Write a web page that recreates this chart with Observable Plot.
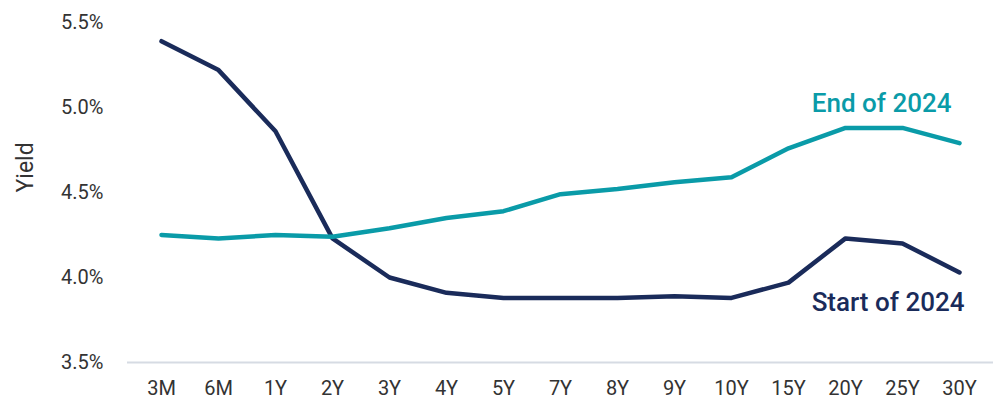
<!DOCTYPE html>
<html>
<head>
<meta charset="utf-8">
<script src="https://cdn.jsdelivr.net/npm/d3@7"></script>
<script src="https://cdn.jsdelivr.net/npm/@observablehq/plot@0.6"></script>
<style>
  html, body { margin: 0; padding: 0; background: #fff; }
  #chart { width: 998px; height: 400px; }
  svg { font-family: Roboto, "Noto Sans", sans-serif; }
</style>
</head>
<body>
<div id="chart"></div>
<script>
const maturities = ["3M","6M","1Y","2Y","3Y","4Y","5Y","7Y","8Y","9Y","10Y","15Y","20Y","25Y","30Y"];
const startOf2024 = [5.39,5.22,4.86,4.23,4.00,3.91,3.88,3.88,3.88,3.89,3.88,3.97,4.23,4.20,4.03];
const endOf2024   = [4.25,4.23,4.25,4.24,4.29,4.35,4.39,4.49,4.52,4.56,4.59,4.76,4.88,4.88,4.79];
const yTicks = [3.5, 4.0, 4.5, 5.0, 5.5];
const seriesNames = ["Start of 2024", "End of 2024"];
const seriesColors = ["#1a2b5a", "#0a9ba8"];
const labelY = [3.85, 5.02];
const labelDx = [5, -8];

const rows = [
  ...maturities.map((m, i) => ({maturity: m, yield: startOf2024[i], series: seriesNames[0]})),
  ...maturities.map((m, i) => ({maturity: m, yield: endOf2024[i], series: seriesNames[1]}))
];
const lastMaturity = maturities[maturities.length - 1];

const chart = Plot.plot({
  width: 998,
  height: 400,
  marginTop: 22,
  marginBottom: 38,
  marginLeft: 127,
  marginRight: 5,
  style: {fontFamily: "Roboto, sans-serif", fontSize: "20px", color: "#333"},
  x: {type: "point", domain: maturities, padding: 0.5, label: null},
  y: {domain: [3.5, 5.5], ticks: yTicks, label: null},
  color: {domain: seriesNames, range: seriesColors},
  marks: [
    Plot.ruleY([3.5], {stroke: "#d6dbe3", strokeWidth: 2}),
    Plot.axisX({tickSize: 0, tickPadding: 18, fontSize: 20, fill: "#333"}),
    Plot.axisY({ticks: yTicks, tickSize: 0, tickPadding: 24, tickFormat: d => d.toFixed(1) + "%", fontSize: 20, fill: "#333"}),
    Plot.text(["Yield"], {frameAnchor: "left", rotate: -90, dx: -102, fontSize: 23, fill: "#333"}),
    Plot.line(rows, {x: "maturity", y: "yield", z: "series", stroke: "series", strokeWidth: 4.5, strokeLinecap: "round", strokeLinejoin: "round"}),
    ...seriesNames.map((s, i) => Plot.text([s], {x: () => lastMaturity, y: () => labelY[i], text: d => d, fill: seriesColors[i], textAnchor: "end", fontSize: 26, fontWeight: 500, dx: labelDx[i]}))
  ]
});
document.getElementById("chart").appendChild(chart);
</script>
</body>
</html>
